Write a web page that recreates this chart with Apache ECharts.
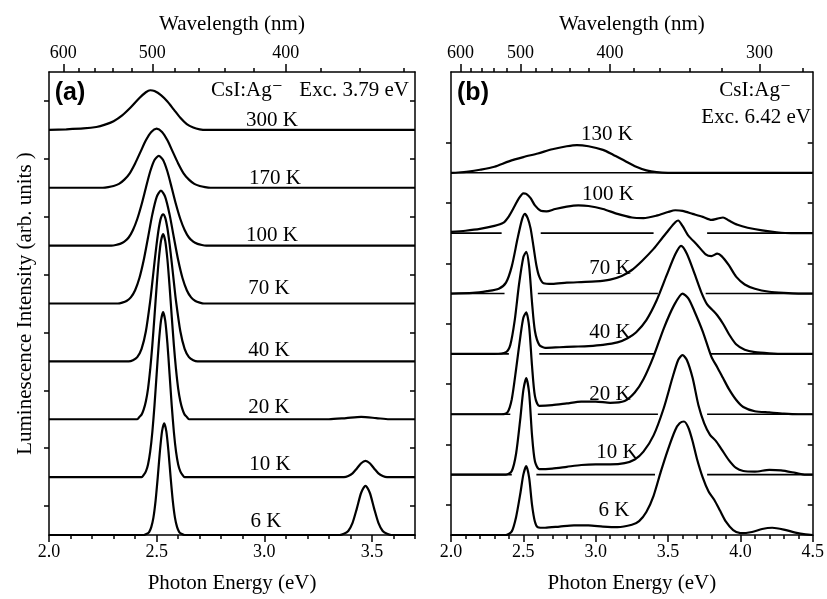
<!DOCTYPE html>
<html><head><meta charset="utf-8">
<script src="https://cdn.jsdelivr.net/npm/echarts@6/dist/echarts.min.js"></script>
<style>html,body{margin:0;padding:0;background:#fff}#c{width:827px;height:599px}</style>
</head><body><div id="c"></div>
<script>
// ---------- Panel (a) spectra: [photon energy eV, intensity above own baseline] ----------
const a300K = [[2.0,0],[2.08,0.01],[2.16,0.025],[2.22,0.05],[2.26,0.09],[2.30,0.15],[2.34,0.25],[2.38,0.39],[2.42,0.55],[2.45,0.65],[2.47,0.685],[2.49,0.67],[2.52,0.60],[2.55,0.49],[2.58,0.35],[2.61,0.21],[2.64,0.10],[2.67,0.04],[2.70,0.01],[2.73,0],[3.7,0]];
const a170K = [[2.0,0],[2.25,0],[2.275,0.01],[2.30,0.03],[2.325,0.067],[2.35,0.14],[2.375,0.25],[2.40,0.42],[2.425,0.62],[2.45,0.82],[2.475,0.965],[2.50,1.02],[2.525,0.965],[2.55,0.82],[2.575,0.62],[2.60,0.42],[2.625,0.25],[2.65,0.14],[2.675,0.067],[2.70,0.03],[2.725,0.01],[2.75,0],[3.7,0]];
const a100K = [[2.0,0],[2.29,0],[2.31,0.01],[2.33,0.03],[2.35,0.068],[2.37,0.14],[2.39,0.27],[2.41,0.46],[2.43,0.71],[2.45,1.0],[2.47,1.28],[2.49,1.48],[2.51,1.55],[2.53,1.48],[2.55,1.28],[2.57,1.0],[2.59,0.71],[2.61,0.46],[2.63,0.27],[2.65,0.14],[2.67,0.068],[2.69,0.03],[2.71,0.01],[2.73,0],[3.7,0]];
const a70K = [[2.0,0],[2.32,0],[2.34,0.016],[2.36,0.044],[2.38,0.106],[2.40,0.23],[2.42,0.44],[2.44,0.75],[2.46,1.14],[2.48,1.54],[2.50,1.84],[2.52,1.95],[2.54,1.84],[2.56,1.54],[2.58,1.14],[2.60,0.75],[2.62,0.44],[2.64,0.23],[2.66,0.106],[2.68,0.044],[2.70,0.016],[2.72,0],[3.7,0]];
const a40K = [[2.0,0],[2.37,0],[2.39,0.02],[2.41,0.073],[2.43,0.215],[2.45,0.52],[2.47,1.04],[2.48,1.37],[2.49,1.71],[2.50,2.03],[2.51,2.30],[2.52,2.48],[2.53,2.54],[2.54,2.48],[2.55,2.30],[2.56,2.03],[2.57,1.71],[2.58,1.37],[2.59,1.04],[2.61,0.52],[2.63,0.215],[2.65,0.073],[2.67,0.02],[2.69,0],[3.7,0]];
const a20K = [[2.0,0],[2.41,0],[2.42,0.04],[2.43,0.08],[2.44,0.17],[2.45,0.31],[2.46,0.53],[2.47,0.86],[2.48,1.28],[2.49,1.78],[2.50,2.30],[2.51,2.76],[2.52,3.08],[2.53,3.2],[2.54,3.08],[2.55,2.76],[2.56,2.30],[2.57,1.78],[2.58,1.28],[2.59,0.86],[2.60,0.53],[2.61,0.31],[2.62,0.17],[2.63,0.08],[2.64,0.04],[2.65,0],[3.30,0],[3.38,0.02],[3.45,0.04],[3.52,0.02],[3.58,0],[3.7,0]];
const a10K = [[2.0,0],[2.43,0],[2.44,0.04],[2.45,0.10],[2.46,0.22],[2.47,0.44],[2.48,0.78],[2.49,1.24],[2.50,1.78],[2.51,2.31],[2.52,2.70],[2.53,2.85],[2.54,2.70],[2.55,2.31],[2.56,1.78],[2.57,1.24],[2.58,0.78],[2.59,0.44],[2.60,0.22],[2.61,0.10],[2.62,0.04],[2.63,0],[3.37,0],[3.39,0.02],[3.41,0.065],[3.43,0.15],[3.45,0.24],[3.47,0.28],[3.49,0.24],[3.51,0.15],[3.53,0.065],[3.55,0.02],[3.57,0],[3.7,0]];
const a6K = [[2.0,0],[2.44,0],[2.455,0.02],[2.465,0.05],[2.475,0.135],[2.485,0.30],[2.495,0.59],[2.505,0.99],[2.515,1.44],[2.525,1.79],[2.535,1.93],[2.545,1.79],[2.555,1.44],[2.565,0.99],[2.575,0.59],[2.585,0.30],[2.595,0.135],[2.605,0.05],[2.615,0.02],[2.63,0],[3.35,0],[3.37,0.02],[3.39,0.07],[3.41,0.21],[3.43,0.46],[3.45,0.73],[3.47,0.85],[3.49,0.73],[3.51,0.46],[3.53,0.21],[3.55,0.07],[3.57,0.02],[3.59,0],[3.7,0]];

// ---------- Panel (b) spectra ----------
const b130K = [[2.0,0],[2.05,0.005],[2.12,0.02],[2.2,0.05],[2.3,0.1],[2.4,0.19],[2.5,0.26],[2.6,0.32],[2.7,0.39],[2.8,0.44],[2.87,0.46],[2.95,0.44],[3.05,0.38],[3.12,0.30],[3.2,0.2],[3.28,0.1],[3.35,0.04],[3.42,0.01],[3.5,0],[4.5,0]];
const b100K = [[2.0,0.02],[2.1,0.04],[2.2,0.07],[2.3,0.12],[2.36,0.17],[2.40,0.28],[2.44,0.45],[2.47,0.58],[2.50,0.66],[2.52,0.65],[2.55,0.58],[2.58,0.46],[2.62,0.37],[2.66,0.36],[2.72,0.40],[2.8,0.44],[2.88,0.46],[2.95,0.45],[3.05,0.40],[3.15,0.32],[3.25,0.26],[3.33,0.25],[3.42,0.29],[3.5,0.35],[3.55,0.38],[3.6,0.37],[3.67,0.32],[3.74,0.27],[3.8,0.22],[3.84,0.24],[3.88,0.26],[3.92,0.21],[3.98,0.14],[4.05,0.09],[4.15,0.045],[4.25,0.015],[4.35,0],[4.5,0]];
const b70K = [[2.0,0],[2.15,0.01],[2.25,0.04],[2.33,0.08],[2.38,0.18],[2.42,0.45],[2.46,0.91],[2.49,1.22],[2.51,1.32],[2.53,1.25],[2.55,1.08],[2.57,0.78],[2.59,0.47],[2.61,0.28],[2.64,0.17],[2.7,0.16],[2.8,0.18],[2.9,0.19],[3.0,0.2],[3.1,0.23],[3.18,0.29],[3.25,0.39],[3.32,0.54],[3.4,0.74],[3.46,0.92],[3.51,1.07],[3.55,1.18],[3.57,1.21],[3.6,1.12],[3.64,0.96],[3.7,0.81],[3.76,0.65],[3.8,0.62],[3.84,0.66],[3.87,0.62],[3.92,0.47],[3.97,0.28],[4.03,0.15],[4.1,0.08],[4.2,0.03],[4.3,0.01],[4.4,0],[4.5,0]];
const b40K = [[2.0,0],[2.3,0],[2.38,0.03],[2.41,0.15],[2.44,0.55],[2.47,1.15],[2.50,1.6],[2.52,1.69],[2.54,1.45],[2.56,0.85],[2.58,0.38],[2.61,0.15],[2.65,0.1],[2.75,0.11],[2.85,0.12],[2.95,0.13],[3.05,0.15],[3.15,0.19],[3.22,0.26],[3.28,0.36],[3.35,0.56],[3.42,0.88],[3.49,1.3],[3.55,1.65],[3.59,1.79],[3.63,1.66],[3.68,1.35],[3.73,1.02],[3.77,0.82],[3.81,0.72],[3.84,0.64],[3.88,0.5],[3.92,0.33],[3.97,0.16],[4.03,0.07],[4.1,0.03],[4.2,0.01],[4.3,0],[4.5,0]];
const b20K = [[2.0,0],[2.35,0],[2.39,0.03],[2.42,0.25],[2.45,0.75],[2.48,1.3],[2.50,1.6],[2.52,1.69],[2.54,1.45],[2.56,0.8],[2.58,0.3],[2.61,0.14],[2.7,0.15],[2.8,0.18],[2.9,0.21],[3.0,0.21],[3.1,0.19],[3.2,0.22],[3.27,0.36],[3.33,0.58],[3.40,0.96],[3.47,1.42],[3.54,1.8],[3.60,2.0],[3.64,1.92],[3.68,1.72],[3.74,1.37],[3.80,0.95],[3.84,0.78],[3.88,0.6],[3.92,0.42],[3.97,0.24],[4.02,0.12],[4.1,0.05],[4.2,0.03],[4.3,0.01],[4.4,0],[4.5,0]];
const b10K = [[2.0,0],[2.38,0],[2.42,0.06],[2.45,0.35],[2.48,0.95],[2.50,1.4],[2.52,1.6],[2.54,1.35],[2.56,0.65],[2.58,0.22],[2.61,0.09],[2.7,0.1],[2.8,0.13],[2.9,0.16],[3.0,0.17],[3.1,0.17],[3.2,0.19],[3.27,0.25],[3.33,0.38],[3.4,0.65],[3.47,1.1],[3.53,1.6],[3.57,1.9],[3.60,1.98],[3.63,1.9],[3.67,1.6],[3.71,1.15],[3.75,0.85],[3.79,0.66],[3.83,0.56],[3.87,0.42],[3.92,0.24],[3.97,0.11],[4.02,0.06],[4.1,0.05],[4.2,0.08],[4.28,0.07],[4.38,0.03],[4.45,0],[4.5,0]];
const b6K = [[2.0,0],[2.38,0],[2.42,0.06],[2.45,0.3],[2.48,0.7],[2.50,1.0],[2.52,1.14],[2.54,0.95],[2.56,0.5],[2.58,0.22],[2.60,0.13],[2.65,0.12],[2.75,0.14],[2.85,0.16],[2.95,0.16],[3.05,0.14],[3.15,0.13],[3.25,0.17],[3.30,0.23],[3.35,0.38],[3.40,0.65],[3.45,1.05],[3.50,1.42],[3.55,1.74],[3.58,1.85],[3.61,1.88],[3.64,1.78],[3.67,1.55],[3.70,1.26],[3.74,0.95],[3.78,0.72],[3.82,0.58],[3.86,0.40],[3.90,0.22],[3.95,0.08],[4.0,0.03],[4.08,0.05],[4.15,0.1],[4.22,0.12],[4.3,0.09],[4.38,0.04],[4.45,0.01],[4.5,0]];

// visible pieces of the drawn baselines in panel (b) (energy ranges)
const baseSegB130K = [[2.0,4.5]];
const baseSegB100K = [[2.0,2.35],[2.62,3.40],[3.77,4.5]];
const baseSegB70K  = [[2.0,2.37],[2.60,3.43],[3.76,4.5]];
const baseSegB40K  = [[2.0,2.40],[2.61,3.43],[3.76,4.5]];
const baseSegB20K  = [[2.0,2.41],[2.60,3.43],[3.77,4.5]];
const baseSegB10K  = [[2.0,2.42],[2.59,3.41],[3.77,4.5]];

// labels and ticks
const curveLabelsA = ['300 K','170 K','100 K','70 K','40 K','20 K','10 K','6 K'];
const curveLabelsB = ['130 K','100 K','70 K','40 K','20 K','10 K','6 K'];
const tickEnergyA = [2.0,2.5,3.0,3.5];
const minorEnergyA = [2.1,2.2,2.3,2.4,2.6,2.7,2.8,2.9,3.1,3.2,3.3,3.4,3.6,3.7];
const tickEnergyB = [2.0,2.5,3.0,3.5,4.0,4.5];
const minorEnergyB = [2.1,2.2,2.3,2.4,2.6,2.7,2.8,2.9,3.1,3.2,3.3,3.4,3.6,3.7,3.8,3.9,4.1,4.2,4.3,4.4];
const tickNmA = [600,500,400];
const minorNmA = [580,560,540,520,480,460,440,420,380,360,340];
const tickNmB = [600,500,400,300];
const minorNmB = [580,560,540,520,480,460,440,420,380,360,340,320,280];
const yTicksA = [0.5,1.5,2.5,3.5,4.5,5.5,6.5,7.5];
const yTicksB = [0.5,1.5,2.5,3.5,4.5,5.5,6.5];

// ---------- layout ----------
const SERIF = '"Liberation Serif","Times New Roman","DejaVu Serif",serif';
const HC = 1239.84;
const nmToE = nm => HC / nm;
const curvesA = [a300K,a170K,a100K,a70K,a40K,a20K,a10K,a6K];
const curvesB = [b130K,b100K,b70K,b40K,b20K,b10K,b6K];
const baseSegsB = [baseSegB130K,baseSegB100K,baseSegB70K,baseSegB40K,baseSegB20K,baseSegB10K,null];
const labelPosA = [[272,120],[275,178],[272,235],[269,288],[269,350],[269,407],[270,464],[266,521]];
const labelPosB = [[607,134],[608,194],[610,268],[610,332],[610,394],[617,452],[614,510]];

const blk = {color:'#000', width:1.5};
function xAxes(grid, min, max, majE, minE, majNm, minNm) {
  return [
    {gridIndex:grid, type:'value', min, max, position:'bottom', z:500,
     axisLine:{show:true, onZero:false, lineStyle:blk},
     axisTick:{show:true, customValues:majE, length:7, lineStyle:blk},
     axisLabel:{show:true, customValues:majE, formatter:v=>v.toFixed(1), fontSize:18, fontFamily:SERIF, color:'#000', margin:8},
     splitLine:{show:false},
     name:'Photon Energy (eV)', nameLocation:'middle', nameGap:38,
     nameTextStyle:{fontSize:21, fontFamily:SERIF, color:'#000'}},
    {gridIndex:grid, type:'value', min, max, position:'bottom', z:500,
     axisLine:{show:false, onZero:false},
     axisTick:{show:true, customValues:minE, length:4, lineStyle:blk},
     axisLabel:{show:false}, splitLine:{show:false}},
    {gridIndex:grid, type:'value', min, max, position:'top', z:500,
     axisLine:{show:true, onZero:false, lineStyle:blk},
     axisTick:{show:true, customValues:majNm.map(nmToE), length:8, lineStyle:blk},
     axisLabel:{show:true, customValues:majNm.map(nmToE), formatter:v=>String(Math.round(HC/v)), fontSize:18, fontFamily:SERIF, color:'#000', margin:10},
     splitLine:{show:false},
     name:'Wavelength (nm)', nameLocation:'middle', nameGap:37,
     nameTextStyle:{fontSize:21, fontFamily:SERIF, color:'#000'}},
    {gridIndex:grid, type:'value', min, max, position:'top', z:500,
     axisLine:{show:false, onZero:false},
     axisTick:{show:true, customValues:minNm.map(nmToE), length:4, lineStyle:blk},
     axisLabel:{show:false}, splitLine:{show:false}}
  ];
}
function yAxes(grid, max, ticks, withName) {
  const left = {gridIndex:grid, type:'value', min:0, max, position:'left', z:500,
     axisLine:{show:true, onZero:false, lineStyle:blk},
     axisTick:{show:true, customValues:ticks, length:5, lineStyle:blk},
     axisLabel:{show:false}, splitLine:{show:false}};
  if (withName) {
    left.name = 'Luminescence Intensity (arb. units )';
    left.nameLocation = 'middle';
    left.nameGap = 13;
    left.nameTextStyle = {fontSize:21, fontFamily:SERIF, color:'#000'};
  }
  const right = {gridIndex:grid, type:'value', min:0, max, position:'right', z:500,
     axisLine:{show:true, onZero:false, lineStyle:blk},
     axisTick:{show:true, inside:true, customValues:ticks, length:5, lineStyle:blk},
     axisLabel:{show:false}, splitLine:{show:false}};
  return [left, right];
}

// Stacking is done on the first data column, so rows are given as [intensity, energy]
// with encode mapping column 1 -> x and column 0 -> y.
const series = [];
let zc = 2;
function addPanel(curves, xIdx, yIdx, tag, segs) {
  const n = curves.length;
  curves.forEach((pts, i) => {
    const k = n - 1 - i;
    const sid = tag + i;
    series.push({type:'line', xAxisIndex:xIdx, yAxisIndex:yIdx, stack:sid, z:zc++,
      encode:{x:1, y:0},
      data: pts.map(p => [k, p[0]]), symbol:'none', silent:true,
      lineStyle:{opacity:0, width:0}});
    series.push({type:'line', xAxisIndex:xIdx, yAxisIndex:yIdx, stack:sid, z:zc++,
      encode:{x:1, y:0},
      data: pts.map(p => [p[1], p[0]]), symbol:'none', smooth:0.25, silent:true,
      lineStyle:{color:'#000', width:2.2}, areaStyle:{color:'#fff', opacity:1}});
    if (segs && segs[i]) {
      const d = [];
      segs[i].forEach(s => { d.push([s[0], k], [s[1], k], [s[1], '-']); });
      series.push({type:'line', xAxisIndex:xIdx, yAxisIndex:yIdx, z:zc++,
        data:d, symbol:'none', silent:true, connectNulls:false,
        lineStyle:{color:'#000', width:1.6}});
    }
  });
}
addPanel(curvesA, 0, 0, 'a', null);
addPanel(curvesB, 4, 2, 'b', baseSegsB);

const graphic = [];
curveLabelsA.forEach((t,i) => graphic.push({type:'text', x:labelPosA[i][0], y:labelPosA[i][1], z:2000,
  style:{text:t, align:'center', verticalAlign:'middle', fontSize:21, fontFamily:SERIF, fill:'#000'}}));
curveLabelsB.forEach((t,i) => graphic.push({type:'text', x:labelPosB[i][0], y:labelPosB[i][1], z:2000,
  style:{text:t, align:'center', verticalAlign:'middle', fontSize:21, fontFamily:SERIF, fill:'#000'}}));
const notes = [
  {t:'(a)', x:70, y:93, a:'center', f:'bold 25px "Liberation Sans",Arial,sans-serif'},
  {t:'(b)', x:473, y:93, a:'center', f:'bold 25px "Liberation Sans",Arial,sans-serif'},
  {t:'CsI:Ag\u207B', x:211, y:90, a:'left', f:'21px ' + SERIF},
  {t:'Exc. 3.79 eV', x:409, y:90, a:'right', f:'21px ' + SERIF},
  {t:'CsI:Ag\u207B', x:791, y:90, a:'right', f:'21px ' + SERIF},
  {t:'Exc. 6.42 eV', x:811, y:117, a:'right', f:'21px ' + SERIF}
];
notes.forEach(o => graphic.push({type:'text', x:o.x, y:o.y, z:2000,
  style:{text:o.t, align:o.a, verticalAlign:'middle', font:o.f, fill:'#000'}}));

const chart = echarts.init(document.getElementById('c'), null, {renderer:'canvas'});
chart.setOption({
  animation:false,
  backgroundColor:'#fff',
  grid:[{left:49, top:72, width:366, height:464}, {left:451, top:72, width:368, height:464}],
  xAxis:[...xAxes(0, 2.0, 3.7, tickEnergyA, minorEnergyA, tickNmA, minorNmA),
         ...xAxes(1, 2.0, 4.5, tickEnergyB, minorEnergyB, tickNmB, minorNmB)],
  yAxis:[...yAxes(0, 8, yTicksA, true), ...yAxes(1, 7.67, yTicksB, false)],
  series,
  graphic
});
</script></body></html>
